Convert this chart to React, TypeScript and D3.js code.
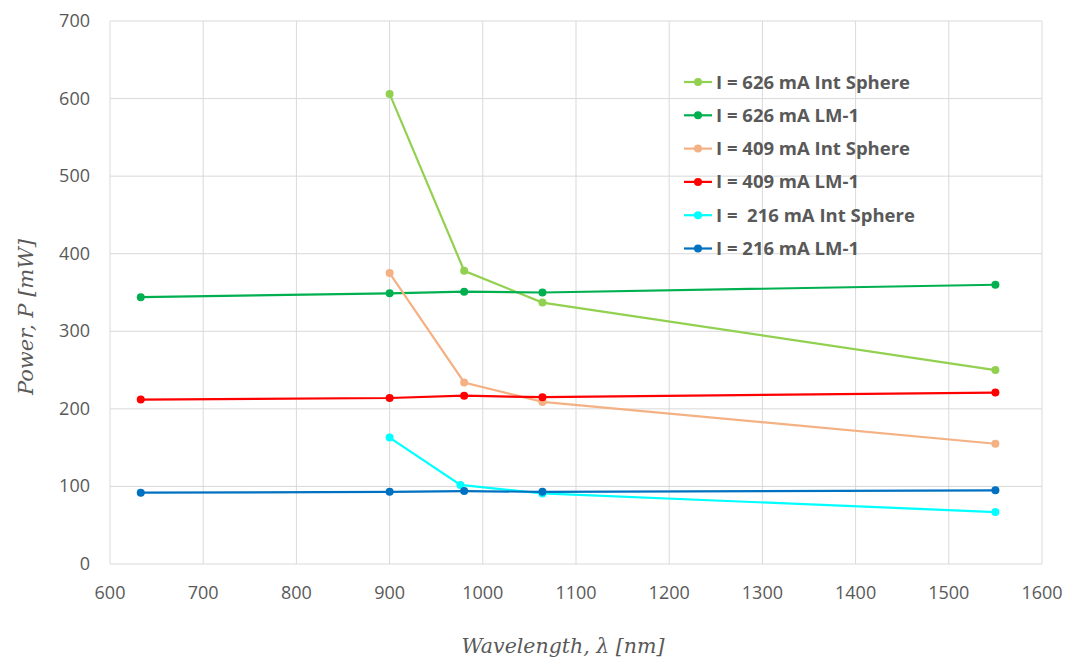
import React from 'react';
import * as d3 from 'd3';

// wavelengths in nm
const lmWavelengths = [633, 900, 980, 1064, 1550];
const sphereWavelengths = [900, 980, 1064, 1550];
const sphere216Wavelengths = [900, 976, 1064, 1550];

// power readings in mW
const p626Sphere = [606, 378, 337, 250];
const p626Lm = [344, 349, 351, 350, 360];
const p409Sphere = [375, 234, 209, 155];
const p409Lm = [212, 214, 217, 215, 221];
const p216Sphere = [163, 102, 91, 67];
const p216Lm = [92, 93, 94, 93, 95];

const xTicks = [600, 700, 800, 900, 1000, 1100, 1200, 1300, 1400, 1500, 1600];
const yTicks = [0, 100, 200, 300, 400, 500, 600, 700];

const series = [
  { name: 'I = 626 mA Int Sphere', color: '#92d050', xs: sphereWavelengths, ys: p626Sphere },
  { name: 'I = 626 mA LM-1', color: '#00b050', xs: lmWavelengths, ys: p626Lm },
  { name: 'I = 409 mA Int Sphere', color: '#f4b183', xs: sphereWavelengths, ys: p409Sphere },
  { name: 'I = 409 mA LM-1', color: '#ff0000', xs: lmWavelengths, ys: p409Lm },
  { name: 'I =  216 mA Int Sphere', color: '#00ffff', xs: sphere216Wavelengths, ys: p216Sphere },
  { name: 'I = 216 mA LM-1', color: '#0070c0', xs: lmWavelengths, ys: p216Lm },
];

const W = 1076;
const H = 664;
const m = { left: 110, right: 34, top: 21, bottom: 100 };

export default function App() {
  const x = d3.scaleLinear().domain([600, 1600]).range([m.left, W - m.right]);
  const y = d3.scaleLinear().domain([0, 700]).range([H - m.bottom, m.top]);
  const line = d3.line<[number, number]>().x(d => x(d[0])).y(d => y(d[1]));
  const tickColor = '#595959';
  const tickFont = '"Open Sans", sans-serif';

  return (
    <svg width={W} height={H} style={{ position: 'absolute', left: 0, top: 0, background: '#fff' }}>
      {xTicks.map(t => (
        <line key={'gx' + t} x1={x(t)} x2={x(t)} y1={y(0)} y2={y(700)} stroke="#d9d9d9" strokeWidth={1} />
      ))}
      {yTicks.map(t => (
        <line key={'gy' + t} x1={x(600)} x2={x(1600)} y1={y(t)} y2={y(t)} stroke="#d9d9d9" strokeWidth={1} />
      ))}
      {xTicks.map(t => (
        <text key={'tx' + t} x={x(t)} y={y(0) + 35} textAnchor="middle" fontFamily={tickFont} fontSize={18} fill={tickColor}>
          {t}
        </text>
      ))}
      {yTicks.map(t => (
        <text key={'ty' + t} x={x(600) - 20} y={y(t) + 6} textAnchor="end" fontFamily={tickFont} fontSize={18} fill={tickColor}>
          {t}
        </text>
      ))}
      {series.map(s => {
        const pts = s.xs.map((v, i) => [v, s.ys[i]] as [number, number]);
        return (
          <g key={s.name}>
            <path d={line(pts) || ''} fill="none" stroke={s.color} strokeWidth={2.2} />
            {pts.map((p, i) => (
              <circle key={i} cx={x(p[0])} cy={y(p[1])} r={4} fill={s.color} />
            ))}
          </g>
        );
      })}
      {series.map((s, i) => {
        const ly = 82 + i * 33.3;
        return (
          <g key={'lg' + s.name}>
            <line x1={684} x2={712} y1={ly} y2={ly} stroke={s.color} strokeWidth={2.2} />
            <circle cx={698} cy={ly} r={4} fill={s.color} />
            <text x={716} y={ly + 6.5} fontFamily={tickFont} fontWeight="bold" fontSize={18.5} fill={tickColor} style={{ whiteSpace: 'pre' }}>
              {s.name}
            </text>
          </g>
        );
      })}
      <text x={563} y={653} textAnchor="middle" fontFamily='"DejaVu Serif", serif' fontStyle="italic" fontSize={20.5} fill={tickColor}>
        Wavelength, λ [nm]
      </text>
      <text transform="translate(33,317) rotate(-90)" textAnchor="middle" fontFamily='"DejaVu Serif", serif' fontStyle="italic" fontSize={21} fill={tickColor}>
        Power, P [mW]
      </text>
    </svg>
  );
}
